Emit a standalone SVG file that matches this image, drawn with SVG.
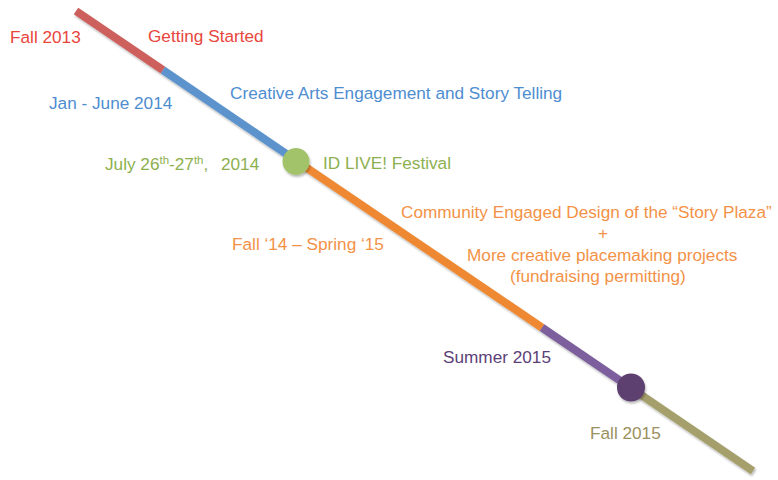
<svg xmlns="http://www.w3.org/2000/svg" width="778" height="480" viewBox="0 0 778 480">
  <style>
    text { font-family: "Liberation Sans", Arial, Helvetica, sans-serif; font-size: 17.2px; }
    .seg { stroke-width: 8; stroke-linecap: butt; fill: none; }
    .red { fill: #E8453C; }
    .blue { fill: #4E8DD0; }
    .green { fill: #8DB04F; }
    .orange { fill: #F39247; }
    .purple { fill: #5C3F78; }
    .olive { fill: #9A9060; }
    .sup { font-size: 11.5px; }
  </style>
  <defs>
    <filter id="sh" x="-10%" y="-10%" width="120%" height="130%">
      <feDropShadow dx="1" dy="2" stdDeviation="1.2" flood-color="#000" flood-opacity="0.28"/>
    </filter>
  </defs>
  <rect width="778" height="480" fill="#ffffff"/>

  <g id="connectors" filter="url(#sh)">
    <line class="seg" x1="76" y1="11" x2="163" y2="70.1" stroke="#CD5F5B"/>
    <line class="seg" x1="163" y1="70.1" x2="296" y2="160.5" stroke="#5B93CD"/>
    <line class="seg" x1="296" y1="160.5" x2="542" y2="327.6" stroke="#EE8830"/>
    <line class="seg" x1="542" y1="327.6" x2="631" y2="388" stroke="#7B5E9C"/>
    <line class="seg" x1="631" y1="388" x2="753" y2="471" stroke="#A59F6C"/>
  </g>

  <g id="milestone-festival" filter="url(#sh)">
    <circle cx="296" cy="161.5" r="13.5" fill="#A2C36B"/>
  </g>
  <g id="milestone-fall2015" filter="url(#sh)">
    <circle cx="631" cy="387.5" r="14" fill="#5D3F70"/>
  </g>

  <g id="node-fall2013">
    <text class="red" x="10" y="43">Fall 2013</text>
    <text class="red" x="148" y="42">Getting Started</text>
  </g>
  <g id="node-jan2014">
    <text class="blue" x="49" y="109">Jan - June 2014</text>
    <text class="blue" x="230" y="99">Creative Arts Engagement and Story Telling</text>
  </g>
  <g id="node-july2014">
    <text class="green" x="105" y="170" xml:space="preserve">July 26<tspan class="sup" dy="-6">th</tspan><tspan dy="6">-27</tspan><tspan class="sup" dy="-6">th</tspan><tspan dy="6">,  </tspan><tspan x="221" y="170">2014</tspan></text>
    <text class="green" x="323" y="169">ID LIVE! Festival</text>
  </g>
  <g id="node-fall14">
    <text class="orange" x="232" y="250">Fall ‘14 – Spring ‘15</text>
    <text class="orange" x="401" y="218">Community Engaged Design of the “Story Plaza”</text>
    <text class="orange" x="598" y="239">+</text>
    <text class="orange" x="467" y="261">More creative placemaking projects</text>
    <text class="orange" x="510" y="282">(fundraising permitting)</text>
  </g>
  <g id="node-summer2015">
    <text class="purple" x="443" y="363">Summer 2015</text>
  </g>
  <g id="node-fall2015">
    <text class="olive" x="590" y="439">Fall 2015</text>
  </g>
</svg>
